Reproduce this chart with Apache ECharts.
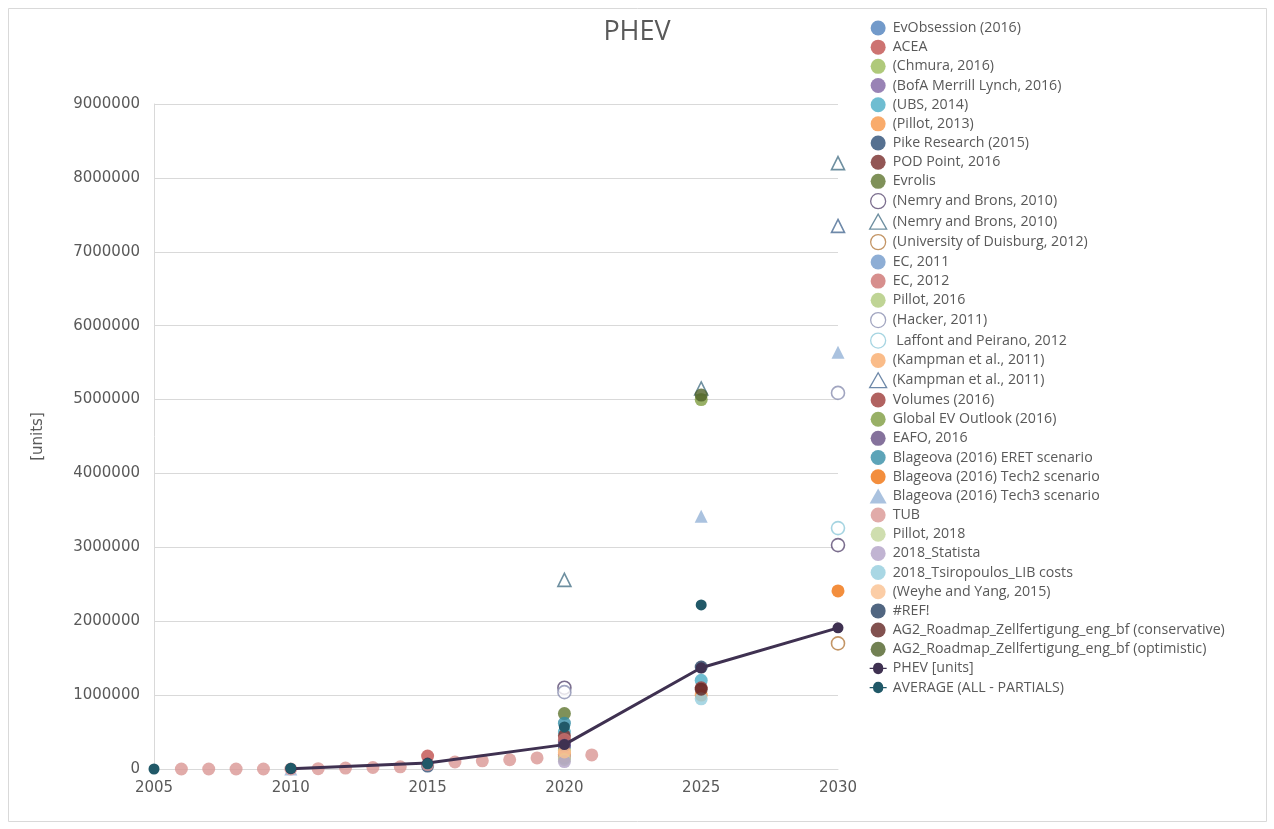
<!DOCTYPE html>
<html>
<head>
<meta charset="utf-8">
<script src="https://cdn.jsdelivr.net/npm/echarts@6/dist/echarts.min.js"></script>
<style>
html,body{margin:0;padding:0;background:#fff;}
#chart{width:1274px;height:829px;}
</style>
</head>
<body>
<div id="chart"></div>
<script>
// ---- data (year, units) ----
const xTicks = [2005, 2010, 2015, 2020, 2025, 2030];
const yTicks = [0, 1000000, 2000000, 3000000, 4000000, 5000000, 6000000, 7000000, 8000000, 9000000];

const evObsession   = [[2020, 300000]];
const acea          = [[2015, 175000]];
const chmura        = [[2020, 250000]];
const bofa          = [[2020, 350000]];
const ubs           = [[2020, 500000], [2025, 1200000]];
const pillot2013    = [[2020, 200000], [2025, 1000000]];
const pike          = [[2015, 40000], [2020, 380000]];
const podPoint      = [[2020, 450000]];
const evrolis       = [[2020, 750000]];
const nemryCircle   = [[2020, 1100000], [2030, 3030000]];
const nemryTriangle = [[2020, 2560000], [2025, 5150000], [2030, 8200000]];
const duisburg      = [[2030, 1700000]];
const ec2011        = [[2020, 150000]];
const ec2012        = [[2020, 400000]];
const pillot2016    = [[2020, 180000]];
const hacker        = [[2020, 1040000], [2030, 5090000]];
const laffont       = [[2030, 3260000]];
const kampman       = [[2020, 220000]];
const kampmanTri    = [[2030, 7350000]];
const volumes       = [[2025, 1100000]];
const globalEV      = [[2025, 5000000]];
const eafo          = [[2020, 320000]];
const blagEret      = [[2020, 620000]];
const blagTech2     = [[2030, 2410000]];
const blagTech3     = [[2010, 0], [2025, 3420000], [2030, 5640000]];
const tub           = [[2006, 0], [2007, 0], [2008, 0], [2009, 0], [2010, 0], [2011, 5000], [2012, 12000], [2013, 20000],
                       [2014, 30000], [2015, 60000], [2016, 95000], [2017, 110000], [2018, 125000], [2019, 150000],
                       [2020, 170000], [2021, 190000]];
const pillot2018    = [[2020, 130000]];
const statista      = [[2020, 100000]];
const tsiropoulos   = [[2025, 950000]];
const weyhe         = [[2020, 230000]];
const refErr        = [[2025, 1380000]];
const ag2Cons       = [[2025, 1080000]];
const ag2Opt        = [[2025, 5060000]];
const phevUnits     = [[2010, 5000], [2015, 80000], [2020, 330000], [2025, 1370000], [2030, 1910000]];
const average       = [[2005, 0], [2010, 10000], [2015, 70000], [2020, 570000], [2025, 2220000]];

// ---- series definitions ----
const defs = [
  {name: 'EvObsession (2016)', data: evObsession, color: '#4F81BD'},
  {name: 'ACEA', data: acea, color: '#C0504D'},
  {name: '(Chmura, 2016)', data: chmura, color: '#9BBB59'},
  {name: '(BofA Merrill Lynch, 2016)', data: bofa, color: '#8064A2'},
  {name: '(UBS, 2014)', data: ubs, color: '#4BACC6'},
  {name: '(Pillot, 2013)', data: pillot2013, color: '#F79646'},
  {name: 'Pike Research (2015)', data: pike, color: '#2C4D75'},
  {name: 'POD Point, 2016', data: podPoint, color: '#772C2A'},
  {name: 'Evrolis', data: evrolis, color: '#5F7530'},
  {name: '(Nemry and Brons, 2010)', data: nemryCircle, color: '#5A4A72', hollow: true},
  {name: '(Nemry and Brons, 2010) ', data: nemryTriangle, color: '#4A7388', hollow: true, symbol: 'triangle'},
  {name: '(University of Duisburg, 2012)', data: duisburg, color: '#B47A3E', hollow: true},
  {name: 'EC, 2011', data: ec2011, color: '#729ACA'},
  {name: 'EC, 2012', data: ec2012, color: '#CD7371'},
  {name: 'Pillot, 2016', data: pillot2016, color: '#AFC97A'},
  {name: '(Hacker, 2011)', data: hacker, color: '#8A8FB0', hollow: true},
  {name: ' Laffont and Peirano, 2012', data: laffont, color: '#8FC9DA', hollow: true},
  {name: '(Kampman et al., 2011)', data: kampman, color: '#F9AB6B'},
  {name: '(Kampman et al., 2011) ', data: kampmanTri, color: '#4A6C94', hollow: true, symbol: 'triangle'},
  {name: 'Volumes (2016)', data: volumes, color: '#9E3B38'},
  {name: 'Global EV Outlook (2016)', data: globalEV, color: '#7E9C40'},
  {name: 'EAFO, 2016', data: eafo, color: '#664F83'},
  {name: 'Blageova (2016) ERET scenario', data: blagEret, color: '#358DA6'},
  {name: 'Blageova (2016) Tech2 scenario', data: blagTech2, color: '#F0720D'},
  {name: 'Blageova (2016) Tech3 scenario', data: blagTech3, color: '#95B3D7', symbol: 'triangle'},
  {name: 'TUB', data: tub, color: '#D99694'},
  {name: 'Pillot, 2018', data: pillot2018, color: '#C3D69B'},
  {name: '2018_Statista', data: statista, color: '#B2A1C7'},
  {name: '2018_Tsiropoulos_LIB costs', data: tsiropoulos, color: '#93CDDD'},
  {name: '(Weyhe and Yang, 2015)', data: weyhe, color: '#FAC090'},
  {name: '#REF!', data: refErr, color: '#254061'},
  {name: 'AG2_Roadmap_Zellfertigung_eng_bf (conservative)', data: ag2Cons, color: '#632523'},
  {name: 'AG2_Roadmap_Zellfertigung_eng_bf (optimistic)', data: ag2Opt, color: '#4F6228'},
  {name: 'PHEV [units]', data: phevUnits, color: '#3F3151', line: true},
  {name: 'AVERAGE (ALL - PARTIALS)', data: average, color: '#215968', line: true, noLine: true}
];

const lineIcon = 'path://M0,5.2 L4,5.2 A6,6 0 0 1 16,5.2 L20,5.2 L20,6.8 L16,6.8 A6,6 0 0 1 4,6.8 L0,6.8 Z';

const series = defs.map(d => {
  if (d.line) {
    return {
      name: d.name, type: 'line', data: d.data,
      symbol: 'circle', symbolSize: 11, showSymbol: true,
      lineStyle: {color: d.color, width: d.noLine ? 0 : 3, opacity: d.noLine ? 0 : 1},
      itemStyle: {color: d.color},
      z: 3
    };
  }
  return {
    name: d.name, type: 'scatter', data: d.data,
    symbol: d.symbol || 'circle',
    symbolSize: 13,
    itemStyle: d.hollow
      ? {color: '#ffffff', borderColor: d.color, borderWidth: 1.6}
      : {color: d.color},
    z: 2
  };
});

const legendData = defs.map(d => {
  if (d.line) return {name: d.name, icon: lineIcon, itemStyle: {color: d.color, borderWidth: 0}};
  if (d.hollow) return {name: d.name, icon: d.symbol || 'circle', itemStyle: {color: '#ffffff', borderColor: d.color, borderWidth: 1.3}};
  return {name: d.name, icon: d.symbol || 'circle'};
});

const chart = echarts.init(document.getElementById('chart'), null, {renderer: 'canvas'});
chart.setOption({
  backgroundColor: '#ffffff',
  animation: false,
  title: {
    text: 'PHEV', left: 'center', top: 14,
    textStyle: {fontFamily: 'Open Sans', fontSize: 27, fontWeight: 'normal', color: '#595959'}
  },
  graphic: [{
    type: 'rect', silent: true, z: -10,
    shape: {x: 8.5, y: 8.5, width: 1258, height: 813},
    style: {fill: 'none', stroke: '#d9d9d9', lineWidth: 1}
  }],
  legend: {
    orient: 'vertical', left: 864, top: 15.5,
    itemWidth: 17, itemHeight: 15, itemGap: 4.17,
    symbolKeepAspect: true,
    data: legendData,
    selectedMode: false,
    textStyle: {fontFamily: 'Open Sans', fontSize: 14.2, lineHeight: 15, color: '#595959', padding: [0, 0, 0, 1]}
  },
  grid: {left: 154, right: 436, top: 104, bottom: 60, containLabel: false},
  xAxis: {
    type: 'value', min: xTicks[0], max: xTicks[xTicks.length - 1], interval: 5,
    axisLine: {show: true, lineStyle: {color: '#d9d9d9'}},
    axisTick: {show: false},
    splitLine: {show: false},
    axisLabel: {
      margin: 12, color: '#595959', fontFamily: 'DejaVu Sans', fontSize: 15,
      formatter: v => xTicks.includes(v) ? String(v) : ''
    }
  },
  yAxis: {
    type: 'value', min: yTicks[0], max: yTicks[yTicks.length - 1], interval: 1000000,
    name: '[units]', nameLocation: 'middle', nameRotate: 90, nameGap: 108,
    nameTextStyle: {fontFamily: 'DejaVu Sans', fontSize: 15, color: '#595959'},
    axisLine: {show: true, lineStyle: {color: '#d9d9d9'}},
    axisTick: {show: false},
    splitLine: {show: true, lineStyle: {color: '#d9d9d9', width: 1}},
    axisLabel: {
      margin: 14, color: '#595959', fontFamily: 'DejaVu Sans', fontSize: 15,
      formatter: v => String(v)
    }
  },
  series: series
});
</script>
</body>
</html>
